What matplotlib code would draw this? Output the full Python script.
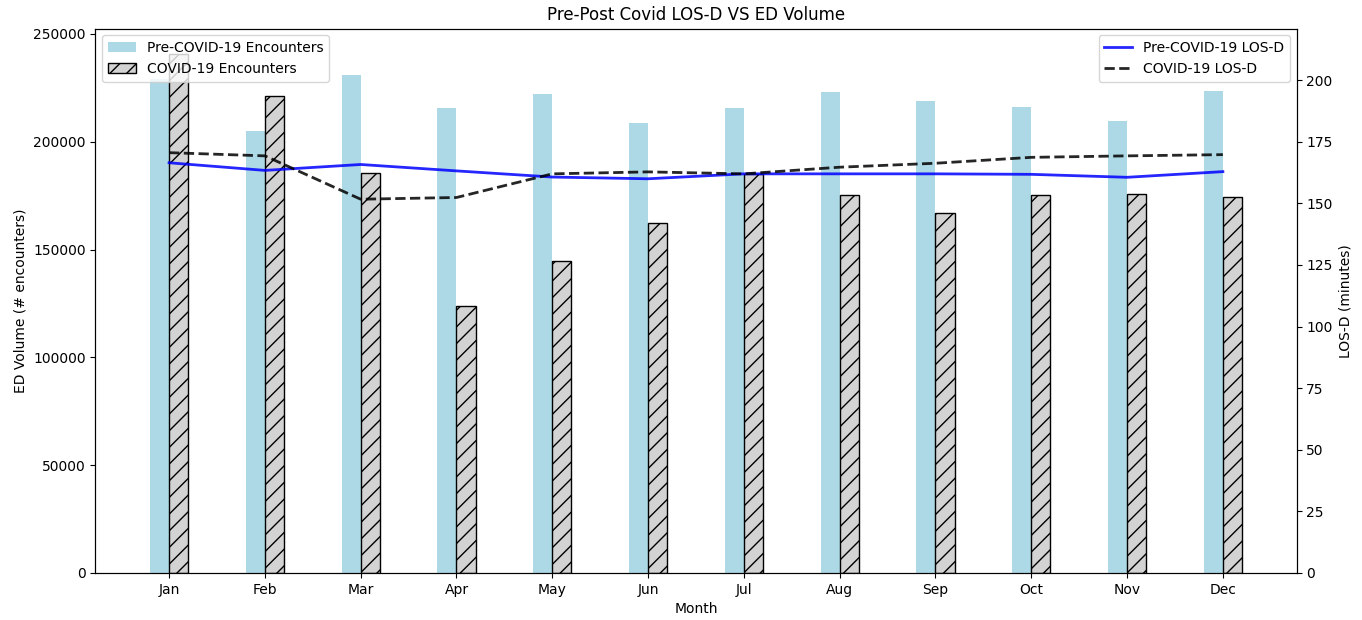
import matplotlib
matplotlib.use('Agg')
import matplotlib.pyplot as plt
import numpy as np

months = ['Jan', 'Feb', 'Mar', 'Apr', 'May', 'Jun', 'Jul', 'Aug', 'Sep', 'Oct', 'Nov', 'Dec']

# ED volume (# encounters)
pre_encounters = [229000, 205000, 231000, 215500, 222300, 208500, 215800, 223000, 219000, 216300, 209800, 223700]
covid_encounters = [240500, 221300, 185500, 123800, 144700, 162300, 185000, 175200, 166800, 175300, 175800, 174600]

# LOS-D (minutes)
pre_losd = [166.5, 163.4, 165.8, 163.2, 160.7, 160.0, 162.0, 162.0, 162.0, 161.8, 160.6, 162.9]
covid_losd = [170.6, 169.3, 151.7, 152.4, 162.0, 162.8, 162.0, 164.7, 166.3, 168.7, 169.3, 169.8]

x = np.arange(len(months))
width = 0.2

fig = plt.figure(figsize=(13.62, 6.2), dpi=100)
ax1 = fig.add_axes([0.070, 0.076, 0.882, 0.878])

ax1.bar(x - width / 2, pre_encounters, width, color='lightblue', label='Pre-COVID-19 Encounters')
ax1.bar(x + width / 2, covid_encounters, width, color='lightgrey', edgecolor='black',
        hatch='//', label='COVID-19 Encounters')
ax1.set_xlabel('Month')
ax1.set_ylabel('ED Volume (# encounters)')
ax1.set_xticks(x)
ax1.set_xticklabels(months)
ax1.legend(loc='upper left')

ax2 = ax1.twinx()
ax2.plot(x, pre_losd, color='blue', alpha=0.85, linewidth=2, label='Pre-COVID-19 LOS-D')
ax2.plot(x, covid_losd, color='black', linestyle='--', alpha=0.85, linewidth=2,
         label='COVID-19 LOS-D')
ax2.set_ylabel('LOS-D (minutes)')
ax2.set_ylim(0, 221)
ax2.legend(loc='upper right')

ax1.set_title('Pre-Post Covid LOS-D VS ED Volume')

plt.savefig('out.png', dpi=100)
